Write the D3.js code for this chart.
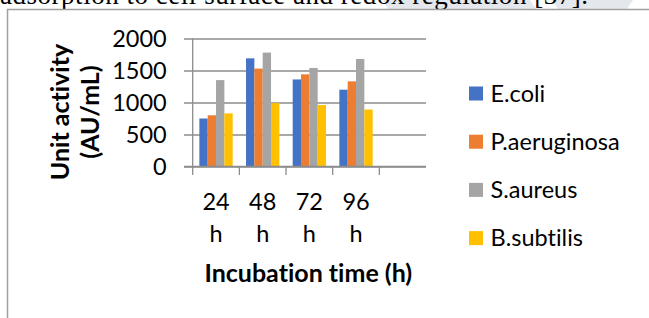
<!DOCTYPE html>
<html><head><meta charset="utf-8">
<script src="https://cdn.jsdelivr.net/npm/d3@7/dist/d3.min.js"></script>
<style>body{margin:0;background:#fff;}svg{display:block;}text{font-variant-ligatures:none;}</style>
</head><body>
<script>
const categories = ["24 h", "48 h", "72 h", "96 h", ""];
const seriesNames = ["E.coli", "P.aeruginosa", "S.aureus", "B.subtilis"];
const ecoli = [750, 1690, 1360, 1200];
const paeruginosa = [800, 1530, 1440, 1330];
const saureus = [1350, 1780, 1540, 1680];
const bsubtilis = [830, 990, 960, 890];
const yTicks = [0, 500, 1000, 1500, 2000];
const colors = ["#4472C4", "#ED7D31", "#A5A5A5", "#FFC000"];
const seriesValues = [ecoli, paeruginosa, saureus, bsubtilis];

const W = 649, H = 318;
const svg = d3.select("body").append("svg").attr("width", W).attr("height", H);
const FONT = "Lato, 'Open Sans', sans-serif";
const FS = 23.5, FSB = 25;

// watermark fragments behind top text
svg.append("polygon").attr("points", "383,0 530,0 536,9 388,9").attr("fill", "#e4e7ec");
svg.append("polygon").attr("points", "552,0 633,0 627,9 558,9").attr("fill", "#e4e7ec");

// cut-off sentence at top
svg.append("text").attr("x", 0).attr("y", 3.5)
  .attr("font-family", "'Liberation Serif', 'Times New Roman', serif")
  .attr("font-size", 27).attr("fill", "#000")
  .attr("textLength", 588).attr("lengthAdjust", "spacing")
  .text("adsorption to cell surface and redox regulation [37].");

// chart frame
svg.append("rect").attr("x", 7.5).attr("y", 9.5).attr("width", 700).attr("height", 400)
  .attr("fill", "#fff").attr("stroke", "#a0a0a0").attr("stroke-width", 1.5);

const x0 = 192.7, x1 = 426, yBase = 166.5, yTop = 38.5;
const x = d3.scaleBand().domain(categories).range([x0, x1]).paddingInner(0).paddingOuter(0);
const xs = d3.scaleBand().domain(d3.range(seriesNames.length)).range([0, x.bandwidth()]).paddingInner(0).paddingOuter(0.8);
const y = d3.scaleLinear().domain([0, 2000]).range([yBase, yTop]);

// gridlines + y labels
const gridLeft = 184;
const yAxis = svg.append("g").attr("transform", `translate(${gridLeft},0)`)
  .call(d3.axisLeft(y).tickValues(yTicks).tickSize(-(x1 - gridLeft)).tickPadding(17.3).tickFormat(d3.format("d")));
yAxis.select(".domain").remove();
yAxis.selectAll(".tick line").attr("stroke", "#8c8c8c").attr("stroke-width", 1.3);
yAxis.selectAll(".tick text").attr("font-family", FONT).attr("font-size", FS).attr("fill", "#000");

// bars
seriesValues.forEach((vals, si) => {
  svg.append("g").selectAll("rect").data(vals).join("rect")
    .attr("x", (d, i) => x(categories[i]) + xs(si))
    .attr("y", d => y(d))
    .attr("width", xs.bandwidth())
    .attr("height", d => y(0) - y(d))
    .attr("fill", colors[si]);
});

// x axis: vertical axis line + category boundary ticks
const bounds = categories.map(c => x(c));
svg.append("g").selectAll("line").data(bounds).join("line")
  .attr("x1", d => d).attr("x2", d => d)
  .attr("y1", (d, i) => i === 0 ? yTop : yBase).attr("y2", yBase + 8.5)
  .attr("stroke", "#8c8c8c").attr("stroke-width", 1.3);
svg.append("line").attr("x1", gridLeft).attr("x2", x1).attr("y1", yBase).attr("y2", yBase)
  .attr("stroke", "#8c8c8c").attr("stroke-width", 1.3);

// category labels (wrapped)
const xl = svg.append("g");
categories.forEach(c => {
  if (!c) return;
  const parts = c.split(" ");
  const t = xl.append("text").attr("text-anchor", "middle").attr("font-family", FONT)
    .attr("font-size", FS).attr("fill", "#000");
  t.append("tspan").attr("x", x(c) + x.bandwidth() / 2).attr("y", 209.5).text(parts[0]);
  t.append("tspan").attr("x", x(c) + x.bandwidth() / 2).attr("y", 241.5).text(parts[1]);
});

// axis titles
svg.append("text").attr("x", (x0 + x1) / 2 - 1).attr("y", 281.5).attr("text-anchor", "middle")
  .attr("font-family", FONT).attr("font-weight", "bold").attr("font-size", FSB).attr("fill", "#000")
  .text("Incubation time (h)");
const yt = svg.append("text").attr("transform", "translate(68.5,112) rotate(-90)")
  .attr("text-anchor", "middle").attr("font-family", FONT).attr("font-weight", "bold")
  .attr("font-size", FSB).attr("fill", "#000");
yt.append("tspan").attr("x", 0).attr("y", 0).text("Unit activity");
yt.append("tspan").attr("x", 0).attr("y", 30).text("(AU/mL)");

// legend
const lg = svg.append("g");
seriesNames.forEach((n, i) => {
  const cy = 93.5 + i * 48.2;
  lg.append("rect").attr("x", 469).attr("y", cy - 7).attr("width", 14).attr("height", 14).attr("fill", colors[i]);
  lg.append("text").attr("x", 490.5).attr("y", cy).attr("dy", "0.35em")
    .attr("font-family", FONT).attr("font-size", FS).attr("fill", "#000").text(n);
});
</script>
</body></html>
